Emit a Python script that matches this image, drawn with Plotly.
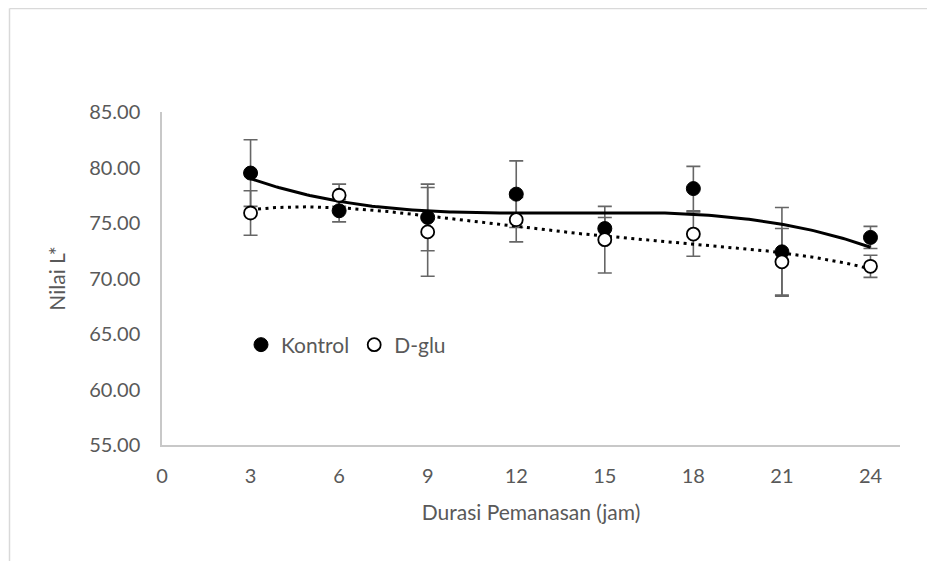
import numpy as np
import plotly.graph_objects as go

# ---- data ----
durasi = [3, 6, 9, 12, 15, 18, 21, 24]
kontrol = [79.5, 76.1, 75.5, 77.6, 74.5, 78.1, 72.4, 73.7]
kontrol_err = [3.0, 1.0, 3.0, 3.0, 1.0, 2.0, 4.0, 1.0]
dglu = [75.9, 77.5, 74.2, 75.3, 73.5, 74.0, 71.5, 71.1]
dglu_err = [2.0, 1.0, 4.0, 2.0, 3.0, 2.0, 3.0, 1.0]
x_ticks = [0, 3, 6, 9, 12, 15, 18, 21, 24]
y_ticks = [55, 60, 65, 70, 75, 80, 85]

FONT = "Lato"
TXT = "#595959"
ERR = "#666666"

# polynomial trendlines (as Excel does) fitted to the series
xs = np.linspace(min(durasi), max(durasi), 200)
k_fit = np.polyval(np.polyfit(durasi, kontrol, 3), xs)
d_fit = np.polyval(np.polyfit(durasi, dglu, 4), xs)

fig = go.Figure()

# error bars (drawn first so every marker sits on top)
for vals, errs in ((kontrol, kontrol_err), (dglu, dglu_err)):
    fig.add_trace(go.Scatter(
        x=durasi, y=vals, mode="markers",
        marker=dict(size=1, opacity=0),
        error_y=dict(type="data", array=errs, visible=True,
                     color=ERR, thickness=1.6, width=7),
        showlegend=False, hoverinfo="skip"))

# trendlines
fig.add_trace(go.Scatter(x=xs, y=k_fit, mode="lines",
                         line=dict(color="black", width=3),
                         showlegend=False, hoverinfo="skip"))
fig.add_trace(go.Scatter(x=xs, y=d_fit, mode="lines",
                         line=dict(color="black", width=3, dash="3px,4.5px"),
                         showlegend=False, hoverinfo="skip"))

# markers
fig.add_trace(go.Scatter(x=durasi, y=kontrol, mode="markers", name="Kontrol",
                         marker=dict(symbol="circle", size=14, color="black",
                                     line=dict(color="black", width=1))))
fig.add_trace(go.Scatter(x=durasi, y=dglu, mode="markers", name="D-glu",
                         marker=dict(symbol="circle", size=13, color="white",
                                     line=dict(color="black", width=1.8))))

# page body has an 8px margin: positions below are in figure pixels
W, H = 935, 561
L, T = 154, 104
R = W - 892
B = H - 437
pw = W - L - R
ph = H - T - B

def px_x(p):
    return (p - L) / pw

def px_y(p):
    return (H - B - p) / ph

border = "#d9d9d9"
shapes = [
    dict(type="line", xref="paper", yref="paper",
         x0=px_x(1.5), x1=px_x(W + 5), y0=px_y(0.5), y1=px_y(0.5),
         line=dict(color=border, width=1.5)),
    dict(type="line", xref="paper", yref="paper",
         x0=px_x(1.5), x1=px_x(1.5), y0=px_y(0.5), y1=px_y(H + 5),
         line=dict(color=border, width=1.5)),
]

fig.update_layout(
    width=W, height=H,
    margin=dict(l=L, r=R, t=T, b=B),
    paper_bgcolor="white", plot_bgcolor="white",
    font=dict(family=FONT, size=20, color=TXT),
    shapes=shapes,
    showlegend=True,
    legend=dict(orientation="h", x=px_x(233), y=px_y(337), xanchor="left",
                yanchor="middle", bgcolor="rgba(0,0,0,0)",
                font=dict(family=FONT, size=21, color=TXT),
                itemwidth=30, tracegroupgap=0),
    xaxis=dict(range=[0, 25], tickvals=x_ticks, ticktext=[str(v) for v in x_ticks],
               showgrid=False, zeroline=False, showline=True,
               linecolor="#c8c8c8", linewidth=1.5, ticks="",
               ticklabelstandoff=12,
               title=dict(text="Durasi Pemanasan (jam)", standoff=20,
                          font=dict(family=FONT, size=21, color=TXT))),
    yaxis=dict(range=[55, 85], tickvals=y_ticks, tickformat=".2f",
               showgrid=False, zeroline=False, showline=True,
               linecolor="#c8c8c8", linewidth=1.5, ticks="",
               ticklabelstandoff=16,
               title=dict(text="Nilai L*", standoff=18,
                          font=dict(family=FONT, size=21, color=TXT))),
)

fig.write_html("out.html")
